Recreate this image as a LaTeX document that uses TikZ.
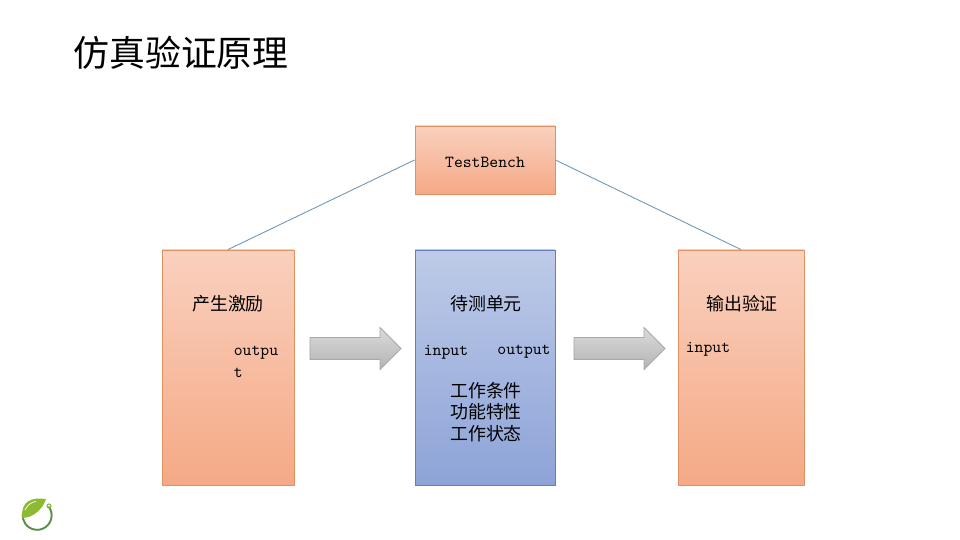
\documentclass[tikz,border=0pt]{standalone}
\usepackage{fontspec}
\setmainfont{Noto Sans CJK SC}
\definecolor{BOXcoralT}{HTML}{F9D0BE}
\definecolor{BOXcoralB}{HTML}{F5A985}
\definecolor{BOXcoralL}{HTML}{DE9263}
\definecolor{BOXblueT}{HTML}{BECBE8}
\definecolor{BOXblueB}{HTML}{8DA3D8}
\definecolor{BOXblueL}{HTML}{5F80BC}
\definecolor{ARWgrayT}{HTML}{DADADA}
\definecolor{ARWgrayB}{HTML}{B4B4B4}
\definecolor{ARWgrayL}{HTML}{A8A8A8}
\definecolor{LNKline}{HTML}{6E97B5}
\definecolor{LOGOgreen}{HTML}{8CBB32}
\definecolor{LOGOdark}{HTML}{5C8F4A}
\usetikzlibrary{shapes.arrows, positioning}
\tikzset{
   coralbox/.style={draw=BOXcoralL, line width=0.5pt, top color=BOXcoralT, bottom color=BOXcoralB, inner sep=0pt},
   bluebox/.style={draw=BOXblueL, line width=0.5pt, top color=BOXblueT, bottom color=BOXblueB, inner sep=0pt},
   blockarrow/.style={single arrow, draw=ARWgrayL, line width=0.5pt, top color=ARWgrayT, bottom color=ARWgrayB,
      minimum height=1.82cm, inner xsep=0pt, inner ysep=0.21cm, single arrow head extend=0.2cm},
   link/.style={LNKline, line width=0.5pt},
   cjklabel/.style={font=\fontsize{10.2}{12.2}\selectfont, align=center, inner sep=0pt},
   portlabel/.style={font=\fontsize{9.6}{12.5}\selectfont\ttfamily, align=left, inner sep=0pt}
}
\begin{document}
\begin{tikzpicture}
            \useasboundingbox (0,0) rectangle (19.2,10.8);
            % Title
            \node[font=\fontsize{20.4}{24}\selectfont, inner sep=0pt] (title) at (3.62,9.74) {仿真验证原理};
            % Boxes
            \node[coralbox, minimum width=2.8cm, minimum height=1.36cm] (bench) at (9.7,7.6) {};
            \node[coralbox, minimum width=2.64cm, minimum height=4.7cm] (stim) at (4.56,3.45) {};
            \node[bluebox, minimum width=2.8cm, minimum height=4.7cm] (dut) at (9.7,3.45) {};
            \node[coralbox, minimum width=2.52cm, minimum height=4.7cm] (check) at (14.82,3.45) {};
            % Links from the bench
            \draw[link] (bench.west) -- (stim.north);
            \draw[link] (bench.east) -- (check.north);
            % Block arrows
            \node[blockarrow] (arrowA) at (7.0,3.83) {};
            \node[blockarrow] (arrowB) at (12.28,3.83) {};
            % Box labels
            \node[portlabel] (benchlabel) at (9.7,7.56) {TestBench};
            \node[cjklabel] (stimlabel) at (4.56,4.72) {产生激励};
            \node[cjklabel] (dutlabel) at (9.72,4.72) {待测单元};
            \node[cjklabel] (checklabel) at (14.84,4.72) {输出验证};
            % Ports
            \node[portlabel] (stimout) at (5.12,3.57) {outpu\\t};
            \node[portlabel] (dutin) at (8.92,3.76) {input};
            \node[portlabel] (dutout) at (10.48,3.76) {output};
            \node[portlabel] (checkin) at (14.16,3.82) {input};
            % DUT notes
            \node[cjklabel] (dutnotes) at (9.72,2.56) {工作条件\\功能特性\\工作状态};
            % Logo: ring and leaf
            \draw[LOGOdark, line width=1.1pt, line cap=round] (0.98,0.66) arc (35:-187:0.29);
            \draw[LOGOgreen, line width=0.6pt] (0.98,0.68) circle (0.04);
            \fill[LOGOgreen] (0.44,0.44) .. controls (0.42,0.78) and (0.62,0.86) .. (0.92,0.82)
               .. controls (0.86,0.62) and (0.66,0.44) .. (0.44,0.44);
            \draw[white, line width=0.4pt] (0.5,0.6) .. controls (0.56,0.72) and (0.64,0.76) .. (0.72,0.77);
         \end{tikzpicture}
\end{document}
